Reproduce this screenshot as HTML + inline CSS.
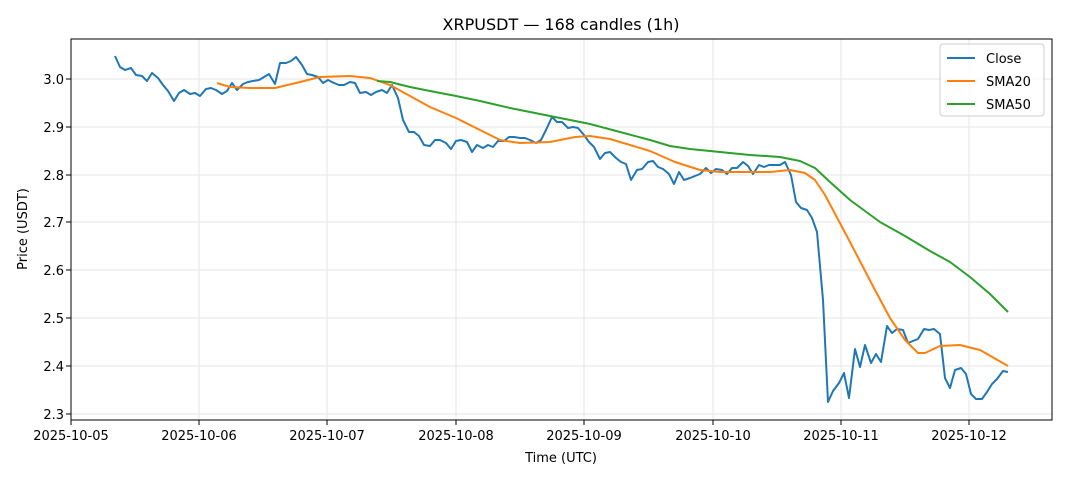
<!DOCTYPE html>
<html><head><style>
html,body{margin:0;padding:0;background:#fff;}
svg{display:block;font-family:"DejaVu Sans","Liberation Sans",sans-serif;}
</style></head><body>
<svg width="1068" height="481" viewBox="0 0 1068 481" xmlns="http://www.w3.org/2000/svg">
<rect width="1068" height="481" fill="#fff"/>
<text x="561" y="30" font-size="16" text-anchor="middle" fill="#000">XRPUSDT — 168 candles (1h)</text>
<g stroke="#e5e5e5" stroke-width="1">
<line x1="71" y1="79" x2="1052" y2="79"/><line x1="71" y1="127" x2="1052" y2="127"/><line x1="71" y1="175" x2="1052" y2="175"/><line x1="71" y1="222" x2="1052" y2="222"/><line x1="71" y1="270" x2="1052" y2="270"/><line x1="71" y1="318" x2="1052" y2="318"/><line x1="71" y1="366" x2="1052" y2="366"/><line x1="71" y1="414" x2="1052" y2="414"/>
<line x1="71" y1="39" x2="71" y2="420"/><line x1="199" y1="39" x2="199" y2="420"/><line x1="327" y1="39" x2="327" y2="420"/><line x1="456" y1="39" x2="456" y2="420"/><line x1="584" y1="39" x2="584" y2="420"/><line x1="713" y1="39" x2="713" y2="420"/><line x1="841" y1="39" x2="841" y2="420"/><line x1="969" y1="39" x2="969" y2="420"/>
</g>
<g fill="none" stroke-width="2" stroke-linejoin="round">
<polyline stroke="#1f77b4" points="115,56 120,67 125,70 131,68 136,75 142,76 147,81 152,73 158,78 163,85 168,91 174,101 179,93 184,90 190,94 195,93 200,96 206,89 211,88 216,90 222,94 227,91 232,83 237,90 243,84 248,82 253,81 259,80 264,77 269,74 275,84 280,63 286,63 291,61 296,57 302,65 307,74 312,75 318,77 323,83 328,80 334,83 339,85 344,85 350,82 355,83 360,93 366,92 371,95 376,92 382,90 387,93 392,85 398,98 403,120 409,132 414,132 419,136 424,145 430,146 435,140 440,140 446,143 451,149 456,141 461,140 467,142 472,152 477,145 483,148 488,145 493,147 498,141 504,141 509,137 514,137 520,138 525,138 530,140 536,143 541,140 546,130 552,117 557,122 562,122 568,128 573,127 578,128 584,135 589,142 594,147 600,159 605,153 610,152 616,158 621,162 626,164 631,180 637,170 642,169 648,162 653,161 658,167 663,169 669,174 674,184 679,172 684,180 690,178 695,176 700,174 706,168 711,173 716,169 722,170 727,174 732,168 737,168 743,162 748,166 753,174 759,165 764,167 769,165 775,165 780,165 785,162 791,175 796,202 801,208 807,210 812,218 817,232 823,300 828,402 833,391 839,383 844,373 849,398 855,349 860,367 865,345 871,363 876,354 881,362 887,326 892,333 897,329 903,330 908,343 913,341 918,339 924,329 929,330 934,329 940,334 945,378 950,388 955,370 961,368 966,374 971,394 976,399 982,399 987,392 992,384 997,379 1003,371 1008,372"/>
<polyline stroke="#ff7f0e" points="217,83 230,87 250,88 275,88 300,82 320,77 350,76 370,78 390,85 410,96 430,107 456,118 480,130 500,140 520,143 550,142 575,137 590,136 610,139 630,145 650,151 675,162 700,170 720,172 740,172 770,172 790,170 805,173 815,180 825,195 850,242 875,290 890,318 905,340 918,353 925,353 940,346 960,345 980,350 1008,366"/>
<polyline stroke="#2ca02c" points="377,81 390,82 410,87 430,91 456,96 480,101 510,108 540,114 560,118 590,124 620,132 650,140 670,146 690,149 720,152 750,155 780,157 800,161 815,168 830,182 850,200 880,222 905,236 930,251 950,262 970,277 990,294 1008,312"/>
</g>
<rect x="71" y="39" width="981" height="381" fill="none" stroke="#000" stroke-width="1"/>
<g font-size="13" fill="#000" text-anchor="end">
<text x="64" y="84">3.0</text><text x="64" y="132">2.9</text><text x="64" y="180">2.8</text><text x="64" y="227">2.7</text><text x="64" y="275">2.6</text><text x="64" y="323">2.5</text><text x="64" y="371">2.4</text><text x="64" y="419">2.3</text>
</g>
<g stroke="#000"><line x1="66" y1="79" x2="71" y2="79"/><line x1="66" y1="127" x2="71" y2="127"/><line x1="66" y1="175" x2="71" y2="175"/><line x1="66" y1="222" x2="71" y2="222"/><line x1="66" y1="270" x2="71" y2="270"/><line x1="66" y1="318" x2="71" y2="318"/><line x1="66" y1="366" x2="71" y2="366"/><line x1="66" y1="414" x2="71" y2="414"/>
<line x1="71" y1="420" x2="71" y2="425"/><line x1="199" y1="420" x2="199" y2="425"/><line x1="327" y1="420" x2="327" y2="425"/><line x1="456" y1="420" x2="456" y2="425"/><line x1="584" y1="420" x2="584" y2="425"/><line x1="713" y1="420" x2="713" y2="425"/><line x1="841" y1="420" x2="841" y2="425"/><line x1="969" y1="420" x2="969" y2="425"/></g>
<g font-size="13" fill="#000" text-anchor="middle">
<text x="71" y="440">2025-10-05</text><text x="199" y="440">2025-10-06</text><text x="327" y="440">2025-10-07</text><text x="456" y="440">2025-10-08</text><text x="584" y="440">2025-10-09</text><text x="713" y="440">2025-10-10</text><text x="841" y="440">2025-10-11</text><text x="969" y="440">2025-10-12</text>
</g>
<text x="561" y="462" font-size="13" text-anchor="middle">Time (UTC)</text>
<text transform="translate(27,229) rotate(-90)" font-size="13" text-anchor="middle">Price (USDT)</text>
<rect x="940" y="44" width="104" height="72" fill="#fff" fill-opacity="0.8" stroke="#ccc" rx="3"/>
<g stroke-width="2"><line x1="947" y1="58" x2="975" y2="58" stroke="#1f77b4"/><line x1="947" y1="81" x2="975" y2="81" stroke="#ff7f0e"/><line x1="947" y1="104" x2="975" y2="104" stroke="#2ca02c"/></g>
<g font-size="13" fill="#000"><text x="986" y="63">Close</text><text x="986" y="86">SMA20</text><text x="986" y="109">SMA50</text></g>
</svg>
</body></html>
